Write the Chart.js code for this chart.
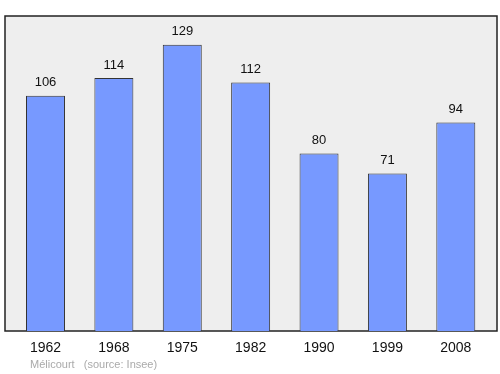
<!DOCTYPE html>
<html><head><meta charset="utf-8">
<script src="https://cdn.jsdelivr.net/npm/chart.js@4/dist/chart.umd.min.js"></script>
<style>html,body{margin:0;padding:0;background:#fff}#w{width:500px;height:374px}</style>
</head><body><div id="w"><canvas id="c" width="500" height="374"></canvas></div>
<script>
const years = ["1962","1968","1975","1982","1990","1999","2008"];
const population = [106,114,129,112,80,71,94];
const footerText = "Mélicourt   (source: Insee)";
const FONT = "'Liberation Sans', Arial, sans-serif";

const bgPlugin = {
  id:'bg',
  beforeDraw(chart){
    const ctx = chart.ctx, a = chart.chartArea;
    ctx.save();
    ctx.fillStyle = '#eeeeee';
    ctx.fillRect(5, a.top, 492, a.bottom - a.top);
    ctx.strokeStyle = '#222';
    ctx.lineWidth = 1.5;
    ctx.strokeRect(5, a.top, 492, a.bottom - a.top);
    ctx.restore();
  },
  afterDatasetsDraw(chart){
    const ctx = chart.ctx;
    const meta = chart.getDatasetMeta(0);
    ctx.save();
    ctx.fillStyle = '#111';
    ctx.font = '13px ' + FONT;
    ctx.textAlign = 'center';
    ctx.textBaseline = 'middle';
    meta.data.forEach((bar, i) => {
      ctx.fillText(String(population[i]), bar.x, bar.y - 13);
    });
    ctx.fillStyle = '#aaaaaa';
    ctx.font = '11px ' + FONT;
    ctx.textAlign = 'left';
    ctx.fillText(footerText, 30, 365);
    ctx.restore();
  }
};

new Chart(document.getElementById('c'), {
  type:'bar',
  data:{labels:years, datasets:[{data:population, backgroundColor:'#7799ff', borderColor:'#333', borderWidth:1, barPercentage:0.57, categoryPercentage:1}]},
  options:{
    responsive:false, animation:false,
    layout:{padding:{left:11.3, right:10, top:16, bottom:0}},
    plugins:{legend:{display:false}, tooltip:{enabled:false}},
    scales:{
      x:{grid:{display:false}, border:{display:false},
         ticks:{color:'#111', font:{size:14, family:FONT}, padding:1, maxRotation:0},
         afterFit(s){ s.height = 43; }},
      y:{display:false, min:0, max:142}
    }
  },
  plugins:[bgPlugin]
});
</script></body></html>
